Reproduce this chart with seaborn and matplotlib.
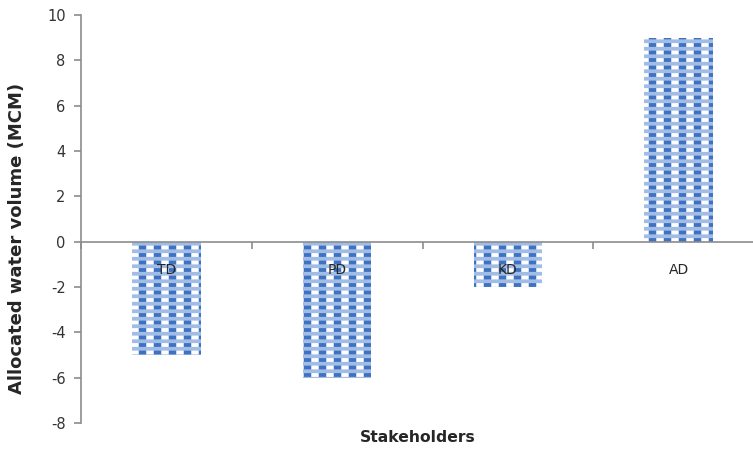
import matplotlib
matplotlib.use("Agg")
import matplotlib.pyplot as plt
import numpy as np
import pandas as pd
import seaborn as sns

# Allocated water volume per stakeholder (MCM)
stakeholders = ["TD", "PD", "KD", "AD"]
allocated = [-5, -6, -2, 9]
y_ticks = [-8, -6, -4, -2, 0, 2, 4, 6, 8, 10]

W, H = 753, 454
DPI = 90


def pt(v):
    """Size given for a 100-dpi canvas, converted to this canvas."""
    return v * 100 / DPI


sns.set_theme(style="white")
plt.rcParams["font.family"] = ["DejaVu Sans"]

df = pd.DataFrame({"Stakeholders": stakeholders, "volume": allocated})

fig = plt.figure(figsize=(W / DPI, H / DPI), dpi=DPI)
ax = fig.add_axes([81 / W, 31 / H, 683 / W, 408 / H])

dark_blue = "#3e71c0"
light_blue = "#a2bde5"


def hatch_width(patch, lw):
    """Draw this patch with its own hatch line width."""
    base_draw = patch.draw

    def draw(renderer):
        with plt.rc_context({"hatch.linewidth": lw}):
            base_draw(renderer)

    patch.draw = draw
    if hasattr(patch, "set_hatch_linewidth"):
        patch.set_hatch_linewidth(lw)


def draw_layer(face, hatch, colour, lw):
    start = len(ax.patches)
    sns.barplot(data=df, x="Stakeholders", y="volume", color="white",
                width=0.4, saturation=1, errorbar=None, ax=ax)
    for p in ax.patches[start:]:
        p.set_facecolor(face)
        p.set_edgecolor(colour)
        p.set_linewidth(0)
        p.set_hatch(hatch)
        hatch_width(p, lw)


# gingham fill: dark vertical stripes on white, light horizontal bands over them
draw_layer("white", "|", dark_blue, 6.0)
draw_layer("none", "--", light_blue, 3.0)

ax.set_ylim(-8, 10)
ax.set_xlim(-0.5, 3.5)
ax.set_yticks(y_ticks)
ax.set_yticklabels([str(v) for v in y_ticks])
ax.set_axisbelow(False)

axis_grey = "#8c8c8c"
for s in ["top", "right"]:
    ax.spines[s].set_visible(False)
for s in ["left", "bottom"]:
    ax.spines[s].set_color(axis_grey)
    ax.spines[s].set_linewidth(pt(1.2))
ax.spines["bottom"].set_position(("data", 0))

ax.set_xticks(np.arange(-0.5, 4.0, 1.0), minor=True)
ax.tick_params(axis="x", which="major", length=0, pad=pt(15),
               labelsize=pt(10), labelcolor="#262626")
ax.tick_params(axis="x", which="minor", length=pt(5), width=pt(1.2),
               color=axis_grey, direction="out", bottom=True)
ax.tick_params(axis="y", which="major", length=pt(5), width=pt(1.2),
               color=axis_grey, direction="out", left=True,
               labelsize=pt(10.5), labelcolor="#333333", pad=pt(6))

ax.set_xlabel("")
ax.set_ylabel("")
fig.text(418 / W, 1 - 438 / H, "Stakeholders", ha="center", va="center",
         fontsize=pt(11.3), fontweight="bold", color="#262626")
fig.text(17 / W, 1 - 238 / H, "Allocated water volume (MCM)", ha="center",
         va="center", rotation=90, fontsize=pt(13), fontweight="bold",
         color="#262626")

fig.savefig("out.png", dpi=DPI)
